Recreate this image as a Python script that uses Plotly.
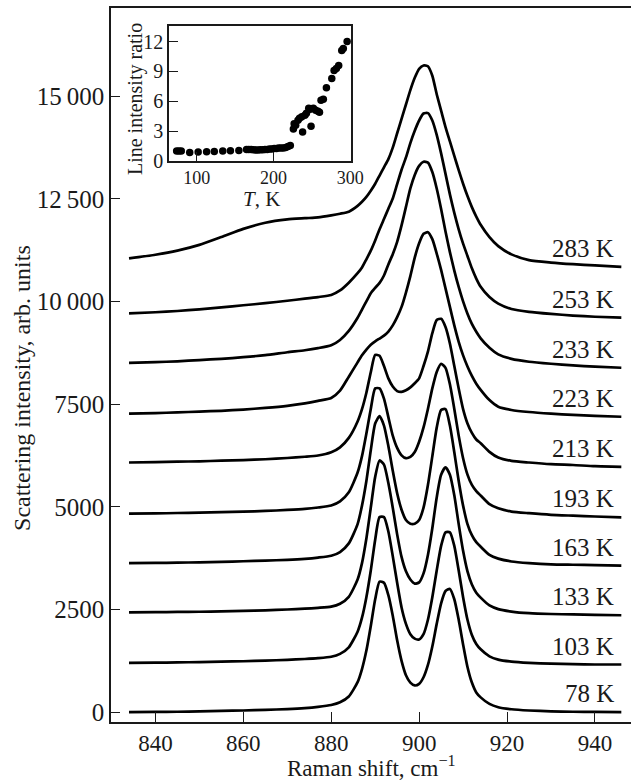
import plotly.graph_objects as go

# ---------------- data ----------------
raman_shift = [834, 840, 845, 850, 855, 860, 865, 870, 874, 877, 880, 882, 884, 886, 887, 888, 889,
               890, 891, 892, 893, 894, 895, 896, 897, 898, 899, 900, 901, 902, 903, 904, 905,
               906, 907, 908, 909, 910, 911, 912, 913, 914, 916, 918, 921, 925, 930, 935, 940, 946]

temperatures = ["78 K", "103 K", "133 K", "163 K", "193 K", "213 K", "223 K", "233 K", "253 K", "283 K"]
offsets = [0, 1200, 2430, 3630, 4835, 6080, 7270, 8505, 9710, 11050]

s78 = [0, 5, 10, 20, 30, 40, 55, 75, 100, 130, 175, 240, 380, 730, 1050, 1500, 2100,
       2750, 3180, 3150, 2850, 2350, 1750, 1250, 900, 720, 650, 690, 850, 1150, 1600, 2150, 2650,
       2950, 3000, 2750, 2250, 1650, 1100, 720, 480, 360, 200, 120, 70, 40, 20, 10, 5, 0]
s103 = [0, 5, 10, 20, 30, 40, 55, 75, 95, 115, 150, 220, 380, 760, 1100, 1600, 2250,
        3000, 3550, 3550, 3200, 2600, 1950, 1350, 950, 700, 590, 570, 700, 1050, 1600, 2250, 2850,
        3180, 3180, 2850, 2250, 1600, 1050, 680, 460, 330, 160, 80, 30, 0, -20, -30, -40, -40]
s133 = [0, 5, 10, 15, 25, 35, 50, 70, 90, 110, 140, 210, 380, 800, 1200, 1800, 2550,
        3300, 3700, 3600, 3150, 2550, 1900, 1350, 1000, 800, 700, 730, 950, 1400, 2050, 2800, 3350,
        3530, 3350, 2850, 2150, 1500, 1000, 680, 480, 360, 170, 80, 20, -20, -40, -50, -60, -70]
s163 = [0, 5, 10, 20, 30, 45, 60, 80, 105, 135, 180, 270, 480, 950, 1400, 2000, 2750,
        3400, 3580, 3350, 2850, 2250, 1700, 1300, 1050, 960, 960, 1050, 1350, 1900, 2600, 3300, 3730,
        3750, 3350, 2700, 2000, 1400, 950, 680, 510, 400, 200, 110, 40, 0, -30, -40, -50, -60]
s193 = [0, 5, 15, 25, 35, 50, 65, 90, 115, 150, 200, 300, 520, 1000, 1400, 1950, 2550,
        3050, 3050, 2800, 2350, 1900, 1600, 1420, 1350, 1380, 1500, 1750, 2100, 2550, 3050, 3450, 3650,
        3550, 3150, 2550, 1900, 1350, 950, 700, 550, 440, 230, 130, 50, 10, -30, -50, -70, -90]
s213 = [0, 10, 20, 30, 45, 60, 80, 110, 140, 170, 250, 370, 600, 1000, 1300, 1700, 2200,
        2620, 2600, 2350, 2050, 1850, 1740, 1720, 1760, 1830, 1930, 2050, 2350, 2700, 3150, 3470, 3500,
        3300, 2900, 2350, 1800, 1300, 950, 720, 560, 470, 260, 120, 40, 0, -40, -60, -90, -105]
s223 = [0, 15, 30, 50, 70, 100, 140, 190, 250, 310, 380, 560, 900, 1250, 1420, 1560, 1680,
        1760, 1830, 1900, 2000, 2150, 2350, 2600, 2950, 3350, 3800, 4150, 4380, 4420, 4250, 3900, 3500,
        3050, 2600, 2150, 1750, 1420, 1150, 920, 730, 580, 330, 170, 90, 40, 0, -30, -55, -76]
s233 = [0, 20, 40, 70, 100, 140, 190, 260, 310, 360, 430, 560, 780, 1100, 1300, 1500, 1700,
        1830, 1950, 2130, 2400, 2650, 2950, 3350, 3800, 4250, 4580, 4800, 4900, 4880, 4650, 4250, 3750,
        3200, 2700, 2250, 1850, 1500, 1200, 950, 760, 600, 370, 210, 100, 30, -20, -60, -90, -117]
s253 = [0, 30, 60, 100, 150, 200, 250, 310, 360, 400, 450, 560, 750, 980, 1120, 1320, 1530,
        1780, 2050, 2300, 2550, 2800, 3150, 3500, 3800, 4150, 4450, 4700, 4870, 4880, 4700, 4350, 3900,
        3400, 2900, 2450, 2050, 1700, 1400, 1100, 850, 650, 400, 240, 110, 40, -10, -50, -80, -102]
s283 = [0, 90, 190, 330, 520, 720, 870, 950, 980, 1000, 1050, 1090, 1140, 1280, 1380, 1500, 1650,
        1820, 2020, 2220, 2420, 2700, 3050, 3400, 3750, 4100, 4400, 4620, 4700, 4680, 4450, 4000, 3600,
        3200, 2850, 2500, 2150, 1820, 1520, 1250, 1020, 820, 520, 300, 100, -40, -100, -140, -170, -204]
spectra = [s78, s103, s133, s163, s193, s213, s223, s233, s253, s283]

y_ticks = [0, 2500, 5000, 7500, 10000, 12500, 15000]
y_tick_text = ["0", "2500", "5000", "7500", "10\u2009000", "12\u2009500", "15\u2009000"]
x_ticks = [840, 860, 880, 900, 920, 940]

# inset: line intensity ratio vs temperature
inset_T = [74, 77, 80, 91, 102, 113, 123, 134, 144, 155, 165, 168, 171, 174, 177, 180, 183, 186,
           189, 192, 195, 198, 201, 204, 207, 210, 213, 216, 219, 222,
           226, 227, 229, 232, 234, 237, 238, 241, 243, 246, 248, 249, 252, 255, 258, 260,
           262, 265, 269, 276, 279, 282, 285, 289, 291, 296]
inset_ratio = [1.0, 1.0, 1.0, 0.85, 0.9, 0.92, 0.95, 1.0, 1.02, 1.05, 1.15, 1.15, 1.15, 1.12, 1.1,
               1.1, 1.12, 1.12, 1.15, 1.15, 1.2, 1.2, 1.25, 1.25, 1.3, 1.3, 1.3, 1.35, 1.45, 1.55,
               3.2, 3.75, 3.6, 4.1, 4.3, 4.45, 2.9, 4.6, 4.8, 5.3, 5.2, 3.5, 5.3, 5.1, 5.0, 4.9,
               6.1, 6.2, 7.35, 8.3, 9.1, 9.3, 9.6, 11.1, 11.3, 12.0]

# ---------------- figure ----------------
FONT = "Liberation Serif, Times New Roman, serif"
INK = "#1a1a1a"

fig = go.Figure()
for name, off, prof in zip(temperatures, offsets, spectra):
    fig.add_trace(go.Scatter(
        x=raman_shift, y=[off + v for v in prof], mode="lines", name=name,
        line=dict(color="black", width=2.7, shape="spline", smoothing=0.6),
        showlegend=False, hoverinfo="skip"))
    fig.add_annotation(x=944.8, y=off + prof[-1] + 450, xref="x", yref="y",
                       text=name, showarrow=False, xanchor="right", yanchor="middle",
                       font=dict(family=FONT, size=25, color=INK))

fig.add_trace(go.Scatter(
    x=inset_T, y=inset_ratio, mode="markers", xaxis="x2", yaxis="y2",
    marker=dict(color="black", size=7.5), showlegend=False, hoverinfo="skip"))

axis_common = dict(showgrid=False, zeroline=False, showline=True, linecolor=INK, linewidth=1.6,
                   ticks="inside", tickcolor=INK, tickwidth=1.4)

fig.update_layout(
    width=631, height=781, autosize=False,
    margin=dict(l=111, r=0, t=8, b=59, autoexpand=False),
    paper_bgcolor="white", plot_bgcolor="white",
    font=dict(family=FONT, color=INK),
    xaxis=dict(range=[829.9, 948.2], tickvals=x_ticks, ticklen=10, mirror=True,
               tickfont=dict(size=23, family=FONT, color=INK), **axis_common),
    yaxis=dict(range=[-240, 17150], tickvals=y_ticks, ticktext=y_tick_text, ticklen=9,
               tickfont=dict(size=25, family=FONT, color=INK), **axis_common),
    xaxis2=dict(domain=[0.1115, 0.4615], anchor="y2", range=[64, 301], tickvals=[100, 200, 300],
                ticklen=9, mirror=True, tickfont=dict(size=18, family=FONT, color=INK), **axis_common),
    yaxis2=dict(domain=[0.7858, 0.9752], anchor="x2", range=[0, 13.6], tickvals=[0, 3, 6, 9, 12],
                ticklen=9, mirror=True, tickfont=dict(size=20, family=FONT, color=INK), **axis_common),
)

title_style = dict(xref="paper", yref="paper", showarrow=False, xanchor="center", yanchor="middle")
fig.add_annotation(x=-0.1712, y=0.4678, textangle=-90,
                   text="Scattering intensity, arb. units",
                   font=dict(family=FONT, size=24, color=INK), **title_style)
fig.add_annotation(x=0.5, y=-0.0625,
                   text="Raman shift, cm<sup>\u22121</sup>",
                   font=dict(family=FONT, size=23, color=INK), **title_style)
fig.add_annotation(x=0.2898, y=0.733,
                   text="<i>T</i>, K",
                   font=dict(family=FONT, size=21, color=INK), **title_style)
fig.add_annotation(x=0.0462, y=0.8725, textangle=-90,
                   text="Line intensity ratio",
                   font=dict(family=FONT, size=20, color=INK), **title_style)

post = ("document.documentElement.style.overflow='hidden';"
        "document.body.style.margin='0';document.body.style.overflow='hidden';"
        "var gd=document.getElementById('{plot_id}');"
        "Plotly.relayout(gd,{width:631,height:781});")
fig.write_html("out.html", config={"displayModeBar": False, "responsive": False},
               post_script=post)
